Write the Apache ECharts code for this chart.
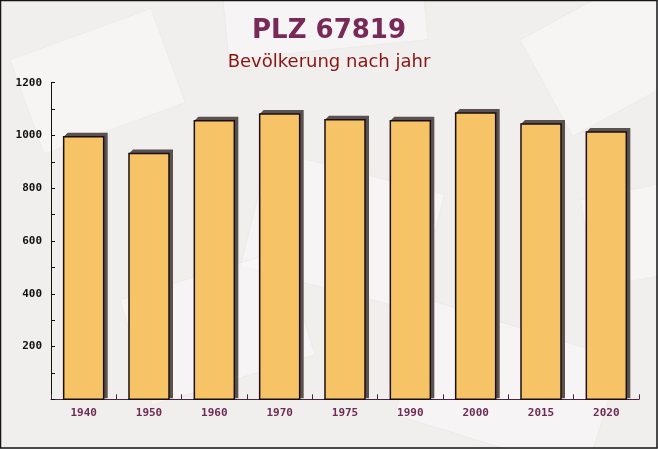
<!DOCTYPE html>
<html>
<head>
<meta charset="utf-8">
<script src="https://cdn.jsdelivr.net/npm/echarts@6/dist/echarts.min.js"></script>
<style>
html,body{margin:0;padding:0;background:#f2efef;}
#c{width:658px;height:449px;}
</style>
</head>
<body>
<div id="c"></div>
<script>
const titleText = 'PLZ 67819';
const subtitleText = 'Bevölkerung nach jahr';
const categories = ['1940','1950','1960','1970','1975','1990','2000','2015','2020'];
const population = [995, 932, 1056, 1081, 1060, 1056, 1085, 1043, 1013];
const yTicks = [0, 200, 400, 600, 800, 1000, 1200];

const chart = echarts.init(document.getElementById('c'), null, {renderer:'canvas'});

function env(x, y, w, h, rot, op) {
  return {
    type: 'rect', x: x, y: y, rotation: rot, originX: 0, originY: 0, z: -10, silent: true,
    shape: {x: 0, y: 0, width: w, height: h},
    style: {fill: 'rgba(252,250,249,' + op + ')', stroke: 'rgba(235,230,230,0.5)', lineWidth: 1}
  };
}

function renderBar(params, api) {
  const idx = api.value(0);
  const val = api.value(1);
  const top = api.coord([idx, val]);
  const base = api.coord([idx, 0]);
  const bw = 40, d = 4;
  const x0 = top[0] - bw / 2, x1 = top[0] + bw / 2;
  const yT = top[1], yB = base[1];
  return {
    type: 'group',
    children: [
      {type: 'polygon',
       shape: {points: [[x0, yT], [x0 + d, yT - d], [x1 + d, yT - d], [x1 + d, yB - 1], [x1, yB - 1]]},
       style: {fill: '#5a5250'}},
      {type: 'rect',
       shape: {x: x0, y: yT, width: bw, height: yB - yT},
       style: {fill: '#f6c366', stroke: '#1a0f12', lineWidth: 1.5}}
    ]
  };
}

chart.setOption({
  backgroundColor: '#f1eeee',
  animation: false,
  title: [
    {text: titleText, left: 'center', top: 13,
     textStyle: {fontFamily: 'DejaVu Sans', fontWeight: 'bold', fontSize: 26, color: '#772957'}},
    {text: subtitleText, left: 'center', top: 48,
     textStyle: {fontFamily: 'DejaVu Sans', fontWeight: 'normal', fontSize: 18, color: '#8b1414'}}
  ],
  graphic: [
    env(10, 60, 150, 100, 0.35, 0.6),
    env(270, 150, 180, 120, -0.25, 0.5),
    env(520, 40, 140, 110, 0.5, 0.55),
    env(120, 300, 170, 110, 0.3, 0.5),
    env(430, 300, 200, 120, -0.3, 0.5),
    env(580, 200, 120, 90, 0.2, 0.55),
    env(220, -30, 200, 90, 0.1, 0.5),
    {type: 'rect', z: 100, silent: true,
     shape: {x: 0.5, y: 0.5, width: 656.5, height: 447.5},
     style: {fill: 'none', stroke: '#151515', lineWidth: 1.5}}
  ],
  grid: {left: 51, right: 19, top: 82.7, bottom: 49.7},
  xAxis: {
    type: 'category',
    data: categories,
    axisLine: {show: true, lineStyle: {color: '#4a2442', width: 1}},
    axisTick: {show: true, inside: true, length: 5, alignWithLabel: false, lineStyle: {color: '#4a2442'}},
    axisLabel: {color: '#6e2c55', fontFamily: 'DejaVu Sans Mono', fontWeight: 'bold', fontSize: 11, margin: 8},
    splitLine: {show: false}
  },
  yAxis: {
    type: 'value',
    min: yTicks[0], max: yTicks[yTicks.length - 1], interval: 200,
    axisLine: {show: true, lineStyle: {color: '#111', width: 1}},
    axisTick: {show: true, inside: true, length: 4, lineStyle: {color: '#111'}},
    minorTick: {show: true, splitNumber: 2, length: 4, lineStyle: {color: '#111'}},
    axisLabel: {color: '#111', fontFamily: 'DejaVu Sans Mono', fontWeight: 'bold', fontSize: 11, margin: 9,
      formatter: function (v) { return v === 0 ? '' : String(v); }},
    splitLine: {show: false}
  },
  series: [{
    type: 'custom',
    renderItem: renderBar,
    data: population.map(function (v, i) { return [i, v]; }),
    encode: {x: 0, y: 1}
  }]
});
</script>
</body>
</html>
